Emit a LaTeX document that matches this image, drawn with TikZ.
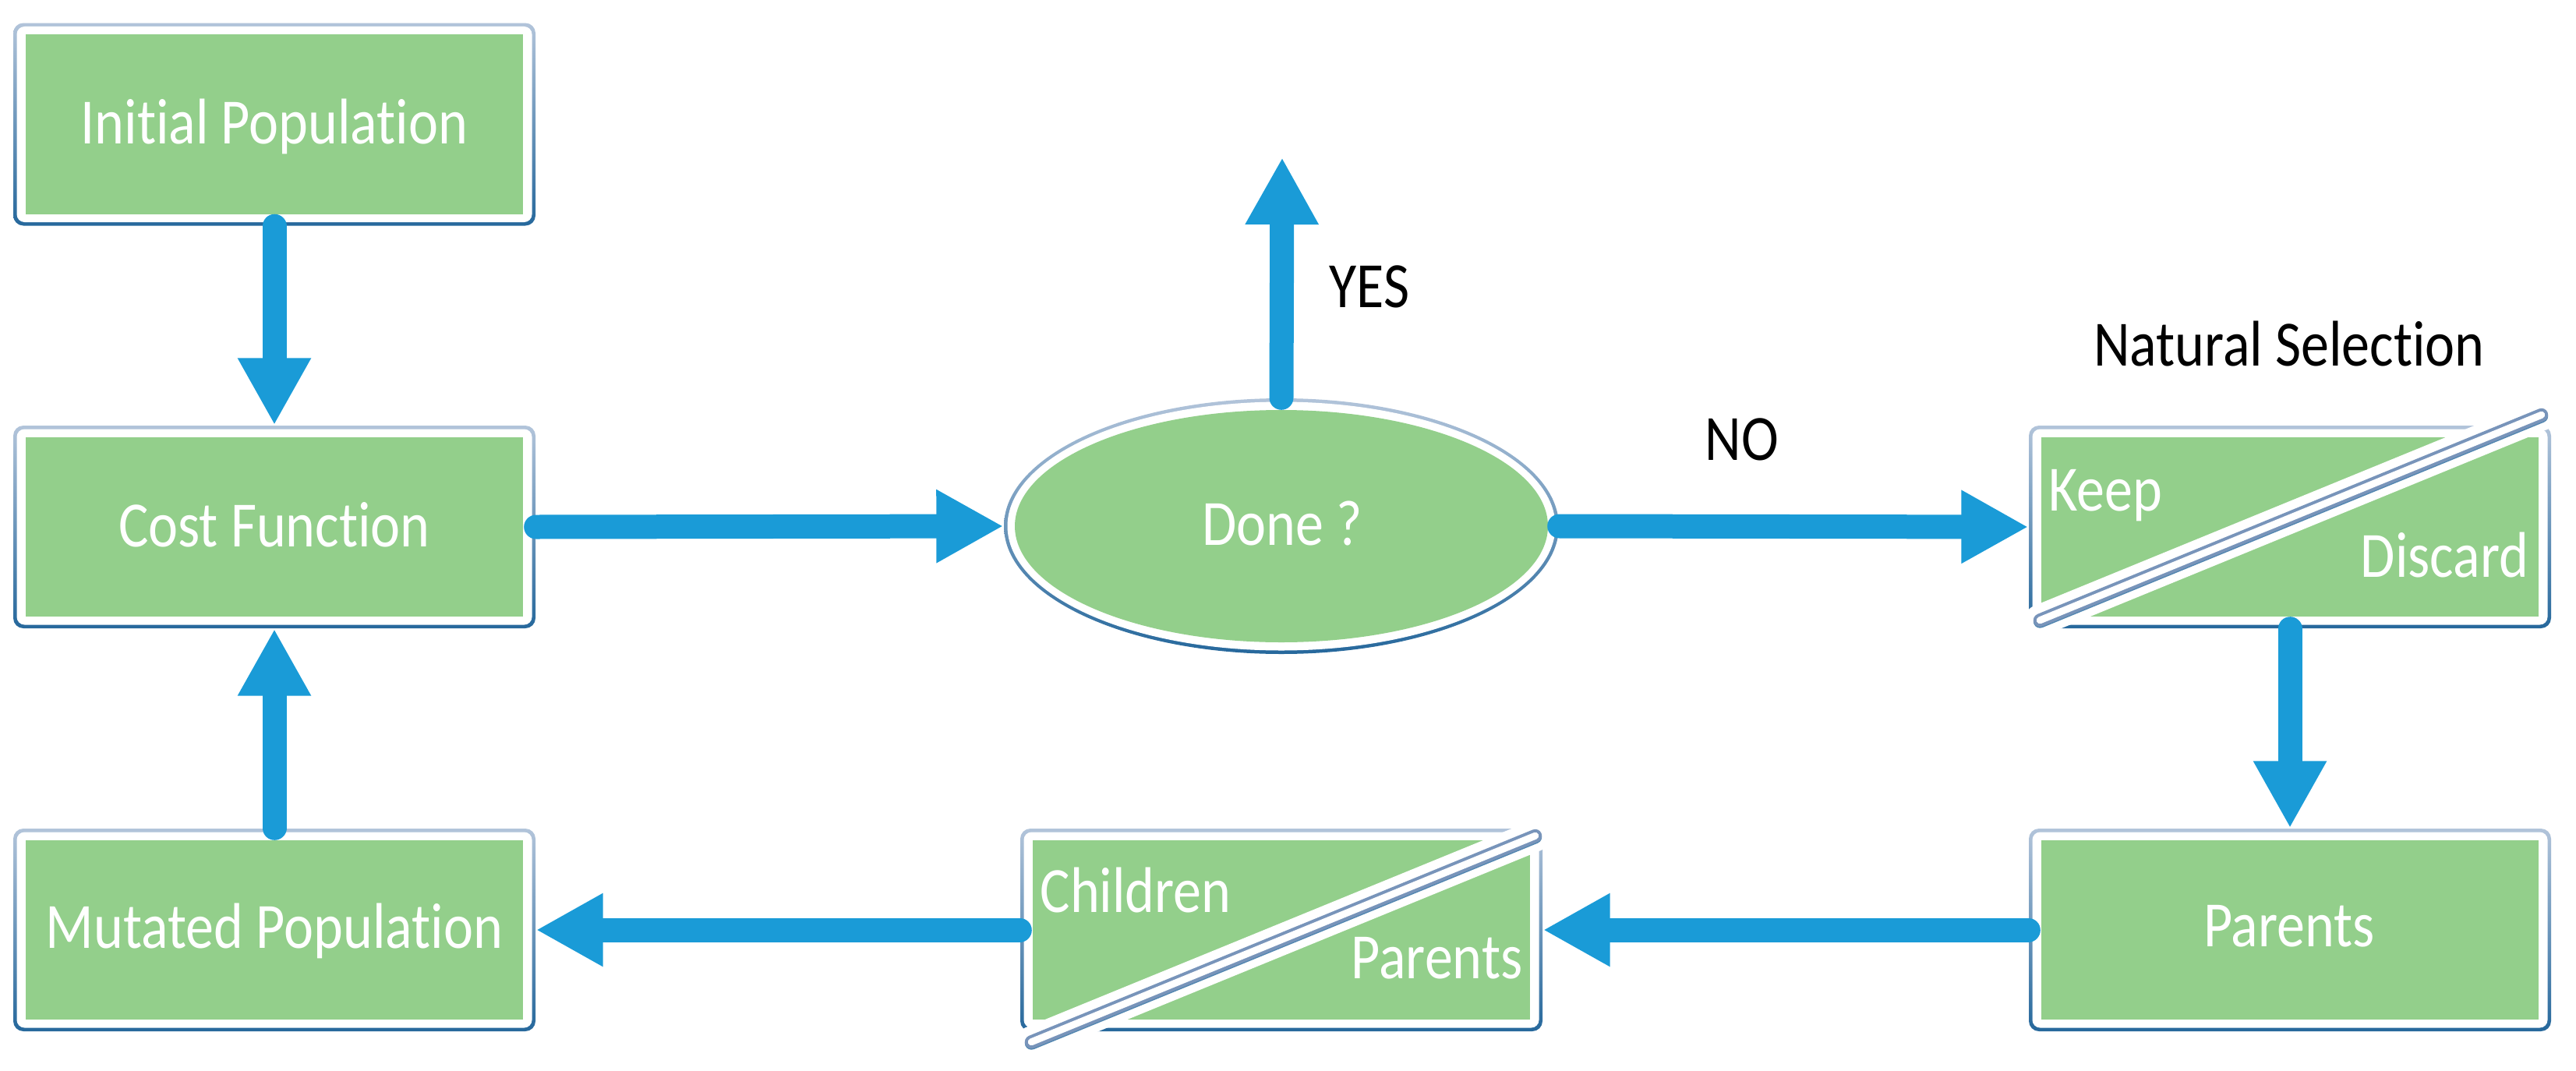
\documentclass[tikz,border=0pt]{standalone}
\usepackage{fontspec}
\setmainfont{Carlito}[Ligatures=NoCommon]
\usepackage{graphicx}
\usetikzlibrary{arrows.meta,shapes.geometric}
\definecolor{gfill}{RGB}{147,207,139}
\definecolor{arrowblue}{RGB}{26,155,215}
\definecolor{bordtop}{RGB}{178,196,218}
\definecolor{bordbot}{RGB}{38,104,156}
\definecolor{capline}{RGB}{120,148,186}
\newcommand\stx[1]{\scalebox{1}[1.15]{#1}}
\begin{document}
\begin{tikzpicture}[
  boxouter/.style={rectangle, rounded corners=0.13cm, minimum width=6.70cm, minimum height=2.60cm,
    inner sep=0pt, top color=bordtop, bottom color=bordbot, draw=none,
    path picture={
      \fill[white, rounded corners=0.10cm] ([shift={(0.045,0.045)}]path picture bounding box.south west) rectangle ([shift={(-0.045,-0.045)}]path picture bounding box.north east);
      \fill[gfill, sharp corners] ([shift={(0.16,0.15)}]path picture bounding box.south west) rectangle ([shift={(-0.16,-0.15)}]path picture bounding box.north east);
    }},
  ellouter/.style={ellipse, minimum width=7.12cm, minimum height=3.28cm, inner sep=0pt,
    top color=bordtop, bottom color=bordbot, draw=none,
    path picture={
      \fill[white] (path picture bounding box.center) ellipse [x radius=3.515cm, y radius=1.595cm];
      \fill[gfill] (path picture bounding box.center) ellipse [x radius=3.42cm, y radius=1.49cm];
    }},
  flow/.style={draw=arrowblue, line width=0.31cm, line cap=round, -{Triangle[length=0.86cm, width=0.88cm]}},
  lab/.style={font=\fontsize{20.5pt}{24pt}\selectfont, inner sep=0pt},
  wtext/.style={lab, text=white},
  band/.style={white, line width=0.40cm, line cap=round},
  capdark/.style={bordbot!80, line width=0.17cm, line cap=round},
  capout/.style={capline, line width=0.17cm, line cap=round},
  capin/.style={white, line width=0.09cm, line cap=round}
]
\useasboundingbox (0,0) rectangle (33.05,-13.74);

% boxes
\node[boxouter] (ip) at (3.52,-1.595) {};
\node[boxouter] (cf) at (3.52,-6.76) {};
\node[boxouter] (mp) at (3.52,-11.93) {};
\node[boxouter] (ns) at (29.38,-6.76) {};
\node[boxouter] (pa) at (29.38,-11.93) {};
\node[boxouter] (cp) at (16.44,-11.93) {};
\node[ellouter] (done) at (16.44,-6.75) {};

% diagonal separators
\coordinate (nsa) at ([shift={(0.15,0.11)}]ns.south west);
\coordinate (nsb) at ([shift={(-0.13,0.13)}]ns.north east);
\coordinate (cpa) at ([shift={(0.15,-0.13)}]cp.south west);
\coordinate (cpb) at ([shift={(-0.10,-0.10)}]cp.north east);
\draw[band] (nsa) -- (nsb);
\draw[capdark] ([yshift=-0.015cm]nsa) -- ([yshift=-0.015cm]nsb);
\draw[capout] (nsa) -- (nsb);
\draw[capin] (nsa) -- (nsb);
\draw[band] (cpa) -- (cpb);
\draw[capdark] ([yshift=-0.015cm]cpa) -- ([yshift=-0.015cm]cpb);
\draw[capout] (cpa) -- (cpb);
\draw[capin] (cpa) -- (cpb);

% texts
\node[wtext, anchor=base] (iptext) at (3.52,-1.84) {\stx{Initial Population}};
\node[wtext, anchor=base] (cftext) at (3.52,-7.01) {\stx{Cost Function}};
\node[wtext, anchor=base] (mptext) at (3.52,-12.16) {\stx{Mutated Population}};
\node[wtext, anchor=base] (donetext) at (16.45,-6.99) {\stx{Done ?}};
\node[wtext, anchor=base] (patext) at (29.37,-12.14) {\stx{Parents}};
\node[wtext, anchor=base west] (keeptext) at (26.28,-6.55) {\stx{Keep}};
\node[wtext, anchor=base east] (disctext) at (32.45,-7.40) {\stx{Discard}};
\node[wtext, anchor=base west] (chtext) at (13.34,-11.70) {\stx{Children}};
\node[wtext, anchor=base east] (cpptext) at (19.54,-12.55) {\stx{Parents}};
\node[lab, anchor=base] (nstext) at (29.37,-4.69) {\stx{Natural Selection}};
\node[lab, anchor=base] (notext) at (22.35,-5.90) {\stx{NO}};
\node[lab, anchor=base west] (yestext) at (17.05,-3.94) {\stx{YES}};

% connectors
\coordinate (yestip) at (16.45,-2.02);
\draw[flow] (ip.south) -- (cf.north);
\draw[flow] (mp.north) -- (cf.south);
\draw[flow] (cf.east) -- (done.west);
\draw[flow] (done.north) -- (yestip);
\draw[flow] (done.east) -- (ns.west);
\draw[flow] (ns.south) -- (pa.north);
\draw[flow] (pa.west) -- (cp.east);
\draw[flow] (cp.west) -- (mp.east);
\end{tikzpicture}
\end{document}
